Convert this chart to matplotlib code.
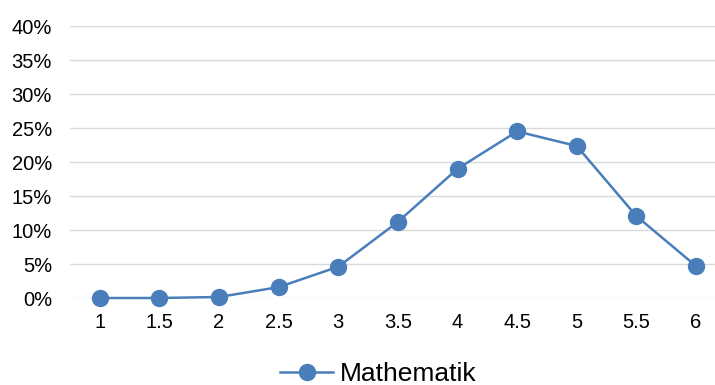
import matplotlib
matplotlib.use("Agg")
import matplotlib.pyplot as plt
from matplotlib.ticker import FuncFormatter

categories = ["1", "1.5", "2", "2.5", "3", "3.5", "4", "4.5", "5", "5.5", "6"]
values = [0.0, 0.0, 0.15, 1.6, 4.6, 11.2, 19.0, 24.5, 22.35, 12.05, 4.7]
series_name = "Mathematik"
y_ticks = [0, 5, 10, 15, 20, 25, 30, 35, 40]

plt.rcParams['font.family'] = ['Liberation Sans', 'DejaVu Sans']

fig = plt.figure(figsize=(7.15, 3.85), dpi=100)
ax = fig.add_axes([70/715, (385-298)/385, 1 - 70/715, 272/385])

x = list(range(len(categories)))
color = '#4a7ebb'
ax.plot(x, values, color=color, lw=1.8, marker='o', markersize=11.5, label=series_name,
        clip_on=False, zorder=3)

ax.set_ylim(0, 40)
ax.set_yticks(y_ticks)
ax.yaxis.set_major_formatter(FuncFormatter(lambda v, p: f"{int(v)}%"))
ax.set_xticks(x)
ax.set_xticklabels(categories)
ax.set_xlim(-0.5, 10 + 19/59.6)

ax.grid(axis='y', color='#d9d9d9', lw=1)
ax.set_axisbelow(True)
for s in ax.spines.values():
    s.set_visible(False)
ax.tick_params(axis='both', length=0, labelsize=14.5, colors='#000000')
ax.tick_params(axis='y', pad=13)
ax.tick_params(axis='x', pad=11)

fig.legend(loc='center', bbox_to_anchor=(378.5/715, 1 - 374/385), frameon=False,
           fontsize=19, handlelength=2.0, handletextpad=0.27)

fig.savefig("out.png", dpi=100)
